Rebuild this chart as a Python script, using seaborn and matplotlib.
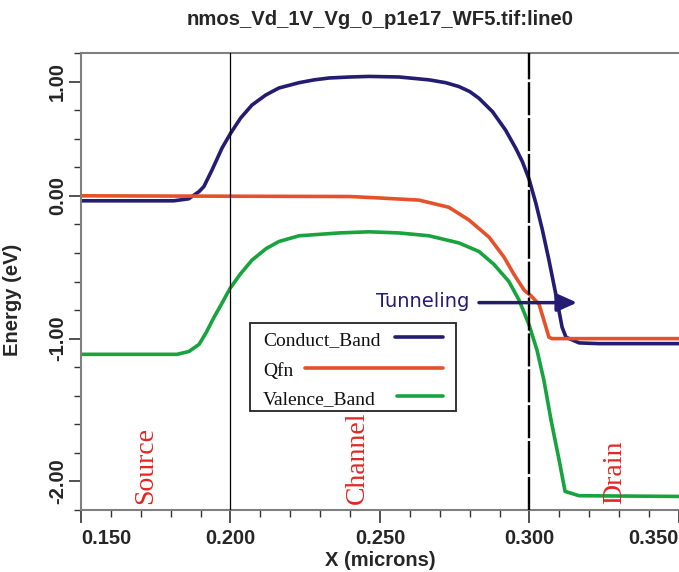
import numpy as np
import pandas as pd
import matplotlib
matplotlib.use("Agg")
import matplotlib.pyplot as plt
from matplotlib.patches import Rectangle
from matplotlib.lines import Line2D
import seaborn as sns

# ---------------- data ----------------
title = "nmos_Vd_1V_Vg_0_p1e17_WF5.tif:line0"
band_names = ["Conduct_Band", "Qfn", "Valence_Band"]
band_colors = ["#231c72", "#e5512a", "#17a33d"]

cb_x = [0.150, 0.181, 0.186, 0.1895, 0.1911, 0.1938, 0.1972, 0.2001, 0.2034, 0.2072,
        0.2118, 0.2162, 0.2229, 0.2280, 0.2330, 0.2400, 0.2463, 0.2564, 0.2664, 0.2720,
        0.2764, 0.2800, 0.2831, 0.2876, 0.2920, 0.2954, 0.2976, 0.2998, 0.3021, 0.3043,
        0.3065, 0.3089, 0.3109, 0.3122, 0.3166, 0.3232, 0.350]
cb_y = [-0.035, -0.035, -0.021, 0.03, 0.065, 0.18, 0.336, 0.44, 0.545, 0.636,
        0.706, 0.755, 0.792, 0.812, 0.825, 0.832, 0.836, 0.832, 0.812, 0.792,
        0.765, 0.73, 0.683, 0.59, 0.46, 0.333, 0.24, 0.12, -0.05, -0.238,
        -0.45, -0.70, -0.92, -0.99, -1.03, -1.035, -1.035]

qfn_x = [0.150, 0.240, 0.2497, 0.263, 0.273, 0.2798, 0.2865, 0.2915, 0.2948, 0.2982,
         0.3005, 0.3032, 0.3048, 0.3065, 0.3075, 0.350]
qfn_y = [0.0, -0.005, -0.015, -0.03, -0.08, -0.17, -0.29, -0.43, -0.55, -0.66,
         -0.70, -0.76, -0.87, -0.99, -1.0, -1.0]

vb_x = [0.150, 0.1821, 0.1861, 0.1895, 0.1918, 0.1945, 0.1972, 0.1998, 0.2032, 0.2072,
        0.2119, 0.2162, 0.2229, 0.2363, 0.2463, 0.2564, 0.2664, 0.2764, 0.2831, 0.2881,
        0.2931, 0.2965, 0.2998, 0.3025, 0.3048, 0.3072, 0.3099, 0.3119, 0.3166, 0.350]
vb_y = [-1.11, -1.11, -1.09, -1.04, -0.96, -0.85, -0.75, -0.65, -0.55, -0.45,
        -0.37, -0.32, -0.28, -0.26, -0.252, -0.26, -0.28, -0.33, -0.39, -0.48,
        -0.60, -0.73, -0.90, -1.08, -1.29, -1.57, -1.85, -2.07, -2.10, -2.105]

x_ticks = [0.150, 0.200, 0.250, 0.300, 0.350]
x_ticklabels = ["0.150", "0.200", "0.250", "0.300", "0.350"]
y_ticks = [0.8, 0.0, -1.0, -2.0]
y_ticklabels = ["1.00", "0.00", "-1.00", "-2.00"]

region_names = ["Source", "Channel", "Drain"]
region_x = [0.1716, 0.2426, 0.3284]
boundary_x = [0.200, 0.300]

arrow_label = "Tunneling"
arrow_start = (0.2831, -0.748)
arrow_end = (0.3159, -0.748)

# ---------------- frame ----------------
df = pd.concat([
    pd.DataFrame({"x": cb_x, "energy": cb_y, "band": band_names[0]}),
    pd.DataFrame({"x": qfn_x, "energy": qfn_y, "band": band_names[1]}),
    pd.DataFrame({"x": vb_x, "energy": vb_y, "band": band_names[2]}),
], ignore_index=True)

sns.set_theme(style="ticks")
plt.rcParams["font.family"] = ["Liberation Sans", "DejaVu Sans"]

W, H = 679, 572
fig = plt.figure(figsize=(W / 100, H / 100), dpi=100)
ax = fig.add_axes([81 / W, 1 - 510 / H, 598 / W, 457 / H])

palette = dict(zip(band_names, band_colors))
sns.lineplot(data=df, x="x", y="energy", hue="band", palette=palette,
             linewidth=2.6, legend=False, ax=ax, estimator=None, sort=False,
             zorder=2)

# boundaries
ax.axvline(boundary_x[0], color="black", lw=0.9, zorder=3)
ax.axvline(boundary_x[1], color="black", lw=1.7, ls=(0, (14, 1.2)), zorder=3)

ax.set_xlim(0.150, 0.350)
ax.set_ylim(-2.2, 1.0)

ax.set_xticks(x_ticks)
ax.set_xticklabels(x_ticklabels)
ax.set_xticks(np.arange(0.15, 0.3501, 0.01), minor=True)
ax.set_yticks(y_ticks)
ax.set_yticklabels(y_ticklabels)
ax.set_yticks(np.arange(-2.2, 1.001, 0.2), minor=True)

spine_col = "#7f7f7f"
for s in ["left", "bottom", "top"]:
    ax.spines[s].set_color(spine_col)
    ax.spines[s].set_linewidth(1.5)
ax.spines["right"].set_visible(False)

ax.tick_params(axis="both", which="major", direction="out", length=9, width=1.2,
               color="#333333", labelsize=14.5)
ax.tick_params(axis="both", which="minor", direction="out", length=5, width=1.0,
               color="#333333")
ax.tick_params(axis="x", which="major", pad=5)
ax.tick_params(axis="y", which="major", pad=1, labelrotation=90)
for lab in ax.get_yticklabels():
    lab.set_fontweight("bold")
    lab.set_va("center")
for lab in ax.get_xticklabels():
    lab.set_fontweight("bold")
xl = ax.get_xticklabels()
xl[0].set_ha("left")
xl[-1].set_ha("right")

ax.set_xlabel("X (microns)", fontsize=14.5, fontweight="bold", labelpad=2)
ax.set_ylabel("Energy (eV)", fontsize=14.5, fontweight="bold")
ax.yaxis.set_label_coords(-0.0987, 0.4595)
ax.set_title(title, fontsize=14.6, fontweight="bold", pad=20)

# region labels
for name, xr in zip(region_names, region_x):
    ax.text(xr, -2.16, name, rotation=90, ha="center", va="bottom",
            family="Liberation Serif", fontsize=20, color="#e32622", zorder=4)

# tunneling annotation
ax.text(0.2798, -0.776, arrow_label, ha="right", va="baseline",
        family="DejaVu Sans", fontsize=14, color=band_colors[0], zorder=4)
ax.annotate("", xy=arrow_end, xytext=arrow_start,
            arrowprops=dict(arrowstyle="-|>,head_length=0.6,head_width=0.27",
                            color=band_colors[0], lw=2.5, shrinkA=0, shrinkB=0,
                            mutation_scale=20), zorder=4)

# legend (text first, line after)
T = ax.transAxes
ax.add_patch(Rectangle((0.2818, 0.2166), 0.6271 - 0.2818, 0.4101 - 0.2166,
                       transform=T, facecolor="white", edgecolor="#222222",
                       lw=1.3, zorder=5))
row_y = [0.3781, 0.3112, 0.2495]
line_start = [0.5247, 0.3751, 0.5284]
for name, col, ry, ls in zip(band_names, band_colors, row_y, line_start):
    ax.text(0.3043, ry - 0.0175, name, transform=T, ha="left", va="baseline",
            family="Liberation Serif", fontsize=14, color="#111111", zorder=6)
    ax.add_line(Line2D([ls, 0.6054], [ry, ry], transform=T, color=col,
                       lw=2.6, zorder=6))

fig.savefig("out.png", dpi=100)
